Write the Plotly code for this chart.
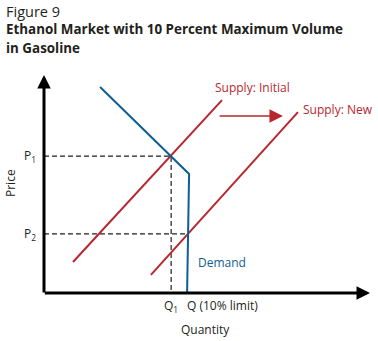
import plotly.graph_objects as go

# Data (quantity / price units, axis range 0-10)
demand_q = [1.72, 4.45, 4.39]
demand_p = [9.45, 5.46, 0.0]
supply_init_q = [0.89, 5.46]
supply_init_p = [1.42, 8.85]
supply_new_q = [3.28, 7.79]
supply_new_p = [0.83, 8.30]
q1, q_limit = 3.90, 4.39
p1, p2 = 6.28, 2.71
shift_arrow_q = [5.34, 7.33]
shift_arrow_p = 8.12

RED = "#b8272d"
BLUE = "#0d5e93"
TXT = "#231f20"
FONT = "Open Sans"

W, H = 378, 341
L, R, T, B = 44, 8, 75, 48
PH = H - T - B

def py(pix):  # pixel y -> paper y
    return (H - B - pix) / PH

def px(pix):
    return (pix - L) / (W - L - R)

fig = go.Figure()
fig.add_trace(go.Scatter(x=[0, q1, q1], y=[p1, p1, 0], mode="lines",
                         line=dict(color=TXT, width=1.2, dash="5px,3px"), hoverinfo="skip"))
fig.add_trace(go.Scatter(x=[0, q_limit], y=[p2, p2], mode="lines",
                         line=dict(color=TXT, width=1.2, dash="5px,3px"), hoverinfo="skip"))
fig.add_trace(go.Scatter(x=supply_init_q, y=supply_init_p, mode="lines",
                         line=dict(color=RED, width=2)))
fig.add_trace(go.Scatter(x=supply_new_q, y=supply_new_p, mode="lines",
                         line=dict(color=RED, width=2)))
fig.add_trace(go.Scatter(x=demand_q, y=demand_p, mode="lines",
                         line=dict(color=BLUE, width=2)))

ann = []
# axes arrows
ann.append(dict(x=10, y=0, ax=-0.02, ay=0, xref="x", yref="y", axref="x", ayref="y",
                showarrow=True, arrowhead=2, arrowsize=0.9, arrowwidth=3, arrowcolor="#000", text=""))
ann.append(dict(x=0, y=10, ax=0, ay=-0.05, xref="x", yref="y", axref="x", ayref="y",
                showarrow=True, arrowhead=2, arrowsize=0.9, arrowwidth=3, arrowcolor="#000", text=""))
# shift arrow
ann.append(dict(x=shift_arrow_q[1], y=shift_arrow_p, ax=shift_arrow_q[0], ay=shift_arrow_p,
                xref="x", yref="y", axref="x", ayref="y",
                showarrow=True, arrowhead=2, arrowsize=1.8, arrowwidth=1.5, arrowcolor=RED, text=""))

def txt(x, y, s, color=TXT, size=12, xanchor="center", xref="x", yref="y", **kw):
    ann.append(dict(x=x, y=y, text=s, showarrow=False, xref=xref, yref=yref,
                    xanchor=xanchor, yanchor="middle",
                    font=dict(family=FONT, size=size, color=color), **kw))

txt(px(213), py(87), "Supply: Initial", RED, xanchor="left", xref="paper", yref="paper")
txt(px(301), py(109), "Supply: New", RED, xanchor="left", xref="paper", yref="paper")
txt(px(196), py(262), "Demand", BLUE, xanchor="left", xref="paper", yref="paper")
txt(px(38), p1, "P<sub>1</sub>", xanchor="right", xref="paper")
txt(px(38), p2, "P<sub>2</sub>", xanchor="right", xref="paper")
txt(q1, py(306), "Q<sub>1</sub>", yref="paper")
txt(px(185), py(305), "Q (10% limit)", xanchor="left", xref="paper", yref="paper")
txt(px(205), py(329), "Quantity", xref="paper", yref="paper")
txt(px(10), py(183), "Price", xref="paper", yref="paper", textangle=-90)
# title
txt(px(4), py(11), "Figure 9", size=14.5, xanchor="left", xref="paper", yref="paper")
txt(px(4), py(29), "<b>Ethanol Market with 10 Percent Maximum Volume</b>", size=13.4,
    xanchor="left", xref="paper", yref="paper")
txt(px(4), py(48), "<b>in Gasoline</b>", size=13.4, xanchor="left", xref="paper", yref="paper")

fig.update_layout(
    width=W, height=H, margin=dict(l=L, r=R, t=T, b=B),
    paper_bgcolor="white", plot_bgcolor="white", showlegend=False,
    xaxis=dict(range=[0, 10], visible=False, fixedrange=True),
    yaxis=dict(range=[0, 10], visible=False, fixedrange=True),
    annotations=ann,
)
fig.write_html("out.html")
